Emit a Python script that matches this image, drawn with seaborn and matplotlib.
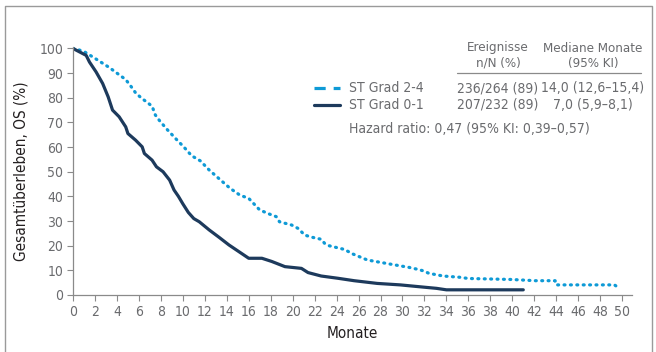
import matplotlib
matplotlib.use('Agg')
import matplotlib.pyplot as plt
import matplotlib.font_manager as fm
import pandas as pd
import seaborn as sns
from matplotlib.lines import Line2D

# Kaplan-Meier Stützpunkte (Monate, OS %)
months_hi = [0, 0.5, 1.1, 2.0, 2.7, 3.3, 4.0, 4.8, 5.3, 5.7, 6.2, 7.2, 7.5, 7.9, 8.6,
             9.4, 10.1, 10.8, 11.6, 12.4, 13.6, 14.3, 15.2, 16.0, 17.0, 17.9, 18.5,
             18.8, 19.9, 20.5, 21.1, 21.8, 22.6, 22.9, 23.3, 24.7, 25.5, 26.8, 28.8,
             30.6, 31.3, 31.9, 32.4, 33.7, 35.2, 36.0, 39.9, 42.1, 43.9, 44.0, 49.3, 49.6]
os_hi = [100, 99.5, 98.5, 96, 94, 92.3, 90, 87.4, 84.5, 82, 80, 76.6, 73, 70.6, 67,
         63.2, 60, 56.5, 54.4, 50.7, 46, 43.3, 40.5, 39.2, 34.5, 32.8, 31.8,
         29.7, 28.4, 27, 24.3, 23.4, 22.6, 21, 20, 18.5, 16.6, 14.2, 12.6,
         11.2, 10.5, 9.8, 8.8, 7.7, 7.2, 6.7, 6.3, 5.8, 5.8, 4.1, 4.1, 3.2]

months_lo = [0, 0.6, 1.2, 1.5, 2.1, 2.7, 3.2, 3.6, 4.2, 4.8, 5.0, 5.7, 6.3, 6.5, 7.2,
             7.6, 8.2, 8.8, 9.2, 9.6, 10.0, 10.5, 11.0, 11.5, 12.4, 13.3, 14.2, 15.1,
             16.0, 17.2, 18.1, 19.3, 20.8, 21.4, 22.6, 24.1, 25.6, 27.7, 29.8, 31.9,
             33.1, 34.0, 41.0]
os_lo = [100, 98.6, 97.2, 94.5, 90.5, 85.8, 80.4, 75, 72.3, 68.2, 65.5, 62.8, 60.1, 57.4, 54.7,
         52, 50, 46.6, 42.6, 40, 37, 33.5, 31, 29.7, 26.4, 23.4, 20.3, 17.6,
         14.9, 14.9, 13.6, 11.5, 10.8, 9.1, 7.7, 6.8, 5.8, 4.7, 4.1, 3.2,
         2.7, 2.1, 2.1]

groups = ['ST Grad 2-4', 'ST Grad 0-1']
events = ['236/264 (89)', '207/232 (89)']
medians = ['14,0 (12,6–15,4)', '7,0 (5,9–8,1)']
hazard = 'Hazard ratio: 0,47 (95% KI: 0,39–0,57)'
x_ticks = list(range(0, 51, 2))
y_ticks = list(range(0, 101, 10))

df = pd.concat([
    pd.DataFrame({'Monate': months_hi, 'OS': os_hi, 'Gruppe': groups[0]}),
    pd.DataFrame({'Monate': months_lo, 'OS': os_lo, 'Gruppe': groups[1]}),
])

blue = '#0e9ad6'
navy = '#1d3a5c'
grey_txt = '#6a6b6e'
dark_txt = '#231f20'

sns.set_style('white')

# schmale Schrift suchen, sonst DejaVu Sans in kleinerer Größe
narrow = False
for fam, stretch in [('Liberation Sans Narrow', 'normal'), ('DejaVu Sans', 'condensed'),
                     ('Roboto Condensed', 'normal'), ('Open Sans', 'condensed')]:
    try:
        path = fm.findfont(fm.FontProperties(family=fam, stretch=stretch), fallback_to_default=False)
    except Exception:
        continue
    if 'Narrow' in path or 'Condensed' in path or 'condensed' in path.lower():
        plt.rcParams['font.family'] = [fam, 'DejaVu Sans']
        plt.rcParams['font.stretch'] = stretch
        narrow = True
        break
if not narrow:
    plt.rcParams['font.family'] = ['DejaVu Sans']
k = 1.0 if narrow else 0.86

fig = plt.figure(figsize=(6.56, 3.52), dpi=100)
ax = fig.add_axes([73 / 656, 1 - 295 / 352, (632 - 73) / 656, (295 - 47) / 352])

sns.lineplot(data=df, x='Monate', y='OS', hue='Gruppe', style='Gruppe',
             palette={groups[0]: blue, groups[1]: navy},
             dashes={groups[0]: (0.3, 1.7), groups[1]: ''},
             sort=False, estimator=None, linewidth=2.3, legend=False, ax=ax)
for ln in ax.get_lines():
    ln.set_dash_capstyle('round')

ax.set_xlim(0, 50.9)
ax.set_ylim(0, 100.6)
ax.set_xticks(x_ticks)
ax.set_yticks(y_ticks)
ax.tick_params(axis='both', direction='out', length=4, width=0.8, color='#8a8a8a',
               labelsize=10 * k, labelcolor=grey_txt, pad=3, left=True, bottom=True)
sns.despine(ax=ax)
for s in ['left', 'bottom']:
    ax.spines[s].set_color('#8a8a8a')
    ax.spines[s].set_linewidth(0.9)
ax.set_xlabel('Monate', fontsize=11 * k, color=dark_txt, labelpad=5)
ax.set_ylabel('Gesamtüberleben, OS (%)', fontsize=11 * k, color=dark_txt, labelpad=8)

# Tabelle / Legende oben rechts
def fx(px):
    return px / 656

def fy(py):
    return 1 - py / 352

hs = 9.5 * k
rs = 10 * k
fig.text(fx(498), fy(48), 'Ereignisse', ha='center', va='center', fontsize=hs, color=grey_txt)
fig.text(fx(498), fy(63), 'n/N (%)', ha='center', va='center', fontsize=hs, color=grey_txt)
fig.text(fx(593), fy(48), 'Mediane Monate', ha='center', va='center', fontsize=hs, color=grey_txt)
fig.text(fx(593), fy(63), '(95% KI)', ha='center', va='center', fontsize=hs, color=grey_txt)
fig.add_artist(Line2D([fx(457), fx(641)], [fy(73), fy(73)], color='#8a8a8a', lw=0.9))

for i, (g, e, m, c) in enumerate(zip(groups, events, medians, [blue, navy])):
    y = 88 + i * 17
    ls = (0, (3.5, 2.5)) if i == 0 else '-'
    fig.add_artist(Line2D([fx(314), fx(340)], [fy(y), fy(y)], color=c, lw=2.3, linestyle=ls))
    fig.text(fx(349), fy(y), g, ha='left', va='center', fontsize=rs, color=grey_txt)
    fig.text(fx(498), fy(y), e, ha='center', va='center', fontsize=rs, color=grey_txt)
    fig.text(fx(593), fy(y), m, ha='center', va='center', fontsize=rs, color=grey_txt)

fig.text(fx(349), fy(129), hazard, ha='left', va='center', fontsize=rs, color=grey_txt)

# Rahmen um die Grafik (unten offen)
fig.add_artist(Line2D([fx(4.5), fx(4.5), fx(651.5), fx(651.5)],
                      [fy(360), fy(5.5), fy(5.5), fy(360)], color='#9a9a9a', lw=1.0))

fig.savefig('out.png', dpi=100)
